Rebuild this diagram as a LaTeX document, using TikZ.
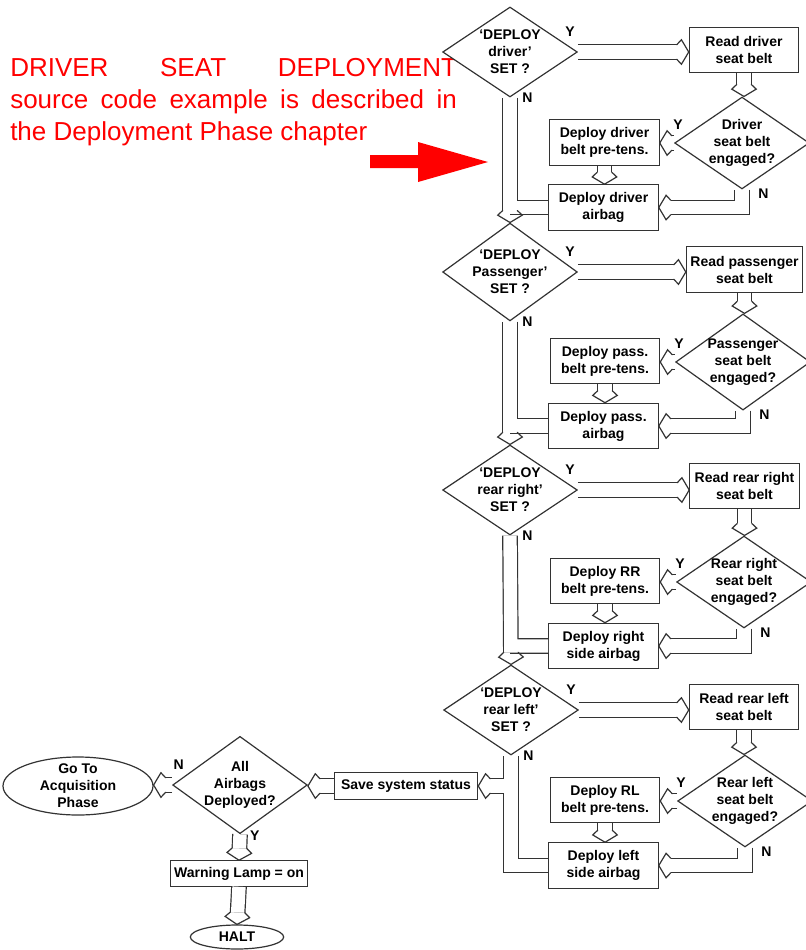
\documentclass[tikz,border=0pt]{standalone}
\usepackage{fontspec}
\setmainfont{Liberation Sans}
\usetikzlibrary{shapes.geometric,arrows.meta}
\definecolor{linecol}{gray}{0.2}
\newcommand{\chartfont}{\bfseries\fontsize{10.5}{12.75}\selectfont}
\newcommand{\notefont}{\fontsize{19.5}{24}\selectfont}
% open head for the hollow (double) arrows
\pgfdeclarearrow{
  name = Hollow,
  setup code = {
    \pgfarrowssettipend{0pt}
    \pgfarrowssetlineend{-9pt}
    \pgfarrowssetbackend{-9pt}
    \pgfarrowsupperhullpoint{-9pt}{9.2pt}
    \pgfarrowsupperhullpoint{0pt}{0pt}
  },
  drawing code = {
    \pgfsetlinewidth{0.9pt}
    \pgfsetstrokecolor{linecol}
    \pgfsetroundcap
    \pgfsetmiterjoin
    \pgfpathmoveto{\pgfqpoint{-9pt}{5.45pt}}
    \pgfpathlineto{\pgfqpoint{-5.5pt}{9.2pt}}
    \pgfpathlineto{\pgfqpoint{0pt}{0pt}}
    \pgfpathlineto{\pgfqpoint{-5.5pt}{-9.2pt}}
    \pgfpathlineto{\pgfqpoint{-9pt}{-5.45pt}}
    \pgfusepathqstroke
  }
}
\tikzset{
  every node/.style={font=\chartfont},
  proc/.style={draw=linecol, line width=0.9pt, fill=white, align=center, inner xsep=3pt,
    minimum width=82pt, minimum height=34pt},
  dec/.style={diamond, draw=linecol, line width=0.9pt, fill=white, align=center,
    inner sep=-4pt, minimum width=101pt, minimum height=67.5pt},
  term/.style={ellipse, draw=linecol, line width=0.9pt, fill=white, align=center,
    inner sep=-3pt},
  flow/.style={draw=linecol, line width=0.9pt, double, double distance=10pt, -Hollow},
  lbl/.style={inner sep=0pt}
}
\begin{document}
\begin{tikzpicture}[x=0.75pt,y=-0.75pt]
\useasboundingbox (0,0) rectangle (806,950);
% note
\node[anchor=north west, inner sep=0pt, align=left, text=red, font=\notefont] (note) at (10,58)
  {\makebox[335pt][s]{DRIVER SEAT DEPLOYMENT}\\
   \makebox[335pt][s]{source code example is described in}\\
   the Deployment Phase chapter};
\fill[red] (370,155) -- (418,155) -- (418,142) -- (488,162) -- (418,182) -- (418,168) -- (370,168) -- cycle;
% driver
\node[dec] (d1) at (510,52) {‘DEPLOY\\driver’\\SET ?};
\node[proc] (r1) at (744,50) {Read driver\\seat belt};
\node[dec] (e1) at (742,143) {Driver\\seat belt\\engaged?};
\node[proc] (p1) at (604.5,142.5) {Deploy driver\\belt pre-tens.};
\node[proc] (a1) at (603.5,207.5) {Deploy driver\\airbag};
% passenger
\node[dec] (d2) at (510,272) {‘DEPLOY\\Passenger’\\SET ?};
\node[proc] (r2) at (744.5,269.5) {Read passenger\\seat belt};
\node[dec] (e2) at (743,362) {Passenger\\seat belt\\engaged?};
\node[proc] (p2) at (605,361) {Deploy pass.\\belt pre-tens.};
\node[proc] (a2) at (603.5,426) {Deploy pass.\\airbag};
% rear right
\node[dec] (d3) at (510,490) {‘DEPLOY\\rear right’\\SET ?};
\node[proc] (r3) at (744.5,486) {Read rear right\\seat belt};
\node[dec] (e3) at (744,582) {Rear right\\seat belt\\engaged?};
\node[proc] (p3) at (605,581) {Deploy RR\\belt pre-tens.};
\node[proc] (a3) at (603.5,646) {Deploy right\\side airbag};
% rear left
\node[dec] (d4) at (511,710) {‘DEPLOY\\rear left’\\SET ?};
\node[proc] (r4) at (744,707) {Read rear left\\seat belt};
\node[dec] (e4) at (745,801) {Rear left\\seat belt\\engaged?};
\node[proc] (p4) at (605,800) {Deploy RL\\belt pre-tens.};
\node[proc] (a4) at (603.5,865.5) {Deploy left\\side airbag};
% end
\node[proc, minimum height=20pt, inner xsep=5pt] (save) at (406,786) {Save system status};
\node[dec] (all) at (240,785) {All\\Airbags\\Deployed?};
\node[term, minimum width=112.5pt, minimum height=43.5pt] (goto) at (78,786) {Go To\\Acquisition\\Phase};
\node[proc, minimum height=19pt] (warn) at (239,873.5) {Warning Lamp = on};
\node[term, minimum width=70pt, minimum height=18pt] (halt) at (237,937) {HALT};

\draw[flow] (d1.east) -- (d1.east -| r1.west);
\draw[flow] (r1.south) -- (r1.south |- e1.north);
\draw[flow] (e1.west) -- (e1.west -| p1.east);
\draw[flow] (p1.south) -- (p1.south |- a1.north);
\draw[flow] (e1.south) |- (a1.east);
\draw[flow] (a1.west) -- (a1.west -| d1.south) (d1.south) -- (d2.north);

\draw[flow] (d2.east) -- (d2.east -| r2.west);
\draw[flow] (r2.south) -- (r2.south |- e2.north);
\draw[flow] (e2.west) -- (e2.west -| p2.east);
\draw[flow] (p2.south) -- (p2.south |- a2.north);
\draw[flow] (e2.south) |- (a2.east);
\draw[flow] (a2.west) -- (a2.west -| d2.south) (d2.south) -- (d3.north);

\draw[flow] (d3.east) -- (d3.east -| r3.west);
\draw[flow] (r3.south) -- (r3.south |- e3.north);
\draw[flow] (e3.west) -- (e3.west -| p3.east);
\draw[flow] (p3.south) -- (p3.south |- a3.north);
\draw[flow] (e3.south) |- (a3.east);
\draw[flow] (a3.west) -- (a3.west -| d3.south) (d3.south) -- (d4.north);

\draw[flow] (d4.east) -- (d4.east -| r4.west);
\draw[flow] (r4.south) -- (r4.south |- e4.north);
\draw[flow] (e4.west) -- (e4.west -| p4.east);
\draw[flow] (p4.south) -- (p4.south |- a4.north);
\draw[flow] (e4.south) |- (a4.east);
\draw[flow] (a4.west) -| (d4.south) (d4.south |- save.east) -- (save.east);

\draw[flow] (save.west) -- (save.west -| all.east);
\draw[flow] (all.west) -- (all.west -| goto.east);
\draw[flow] (all.south) -- (warn.north);
\draw[flow] (warn.south) -- (halt.north);

% Y / N
\node[lbl] at ([xshift=-6pt,yshift=15pt]d1.east) {Y};
\node[lbl] at ([xshift=13pt]d1.south) {N};
\node[lbl] at ([xshift=3pt,yshift=14pt]e1.west) {Y};
\node[lbl] at ([xshift=16pt,yshift=-3pt]e1.south) {N};
\node[lbl] at ([xshift=-6pt,yshift=15pt]d2.east) {Y};
\node[lbl] at ([xshift=13pt]d2.south) {N};
\node[lbl] at ([xshift=3pt,yshift=14pt]e2.west) {Y};
\node[lbl] at ([xshift=16pt,yshift=-3pt]e2.south) {N};
\node[lbl] at ([xshift=-6pt,yshift=15pt]d3.east) {Y};
\node[lbl] at ([xshift=13pt]d3.south) {N};
\node[lbl] at ([xshift=3pt,yshift=14pt]e3.west) {Y};
\node[lbl] at ([xshift=16pt,yshift=-3pt]e3.south) {N};
\node[lbl] at ([xshift=-6pt,yshift=15pt]d4.east) {Y};
\node[lbl] at ([xshift=13pt]d4.south) {N};
\node[lbl] at ([xshift=3pt,yshift=14pt]e4.west) {Y};
\node[lbl] at ([xshift=16pt,yshift=-3pt]e4.south) {N};
\node[lbl] at ([xshift=5pt,yshift=15pt]all.west) {N};
\node[lbl] at ([xshift=11pt,yshift=-1pt]all.south) {Y};
\end{tikzpicture}
\end{document}
